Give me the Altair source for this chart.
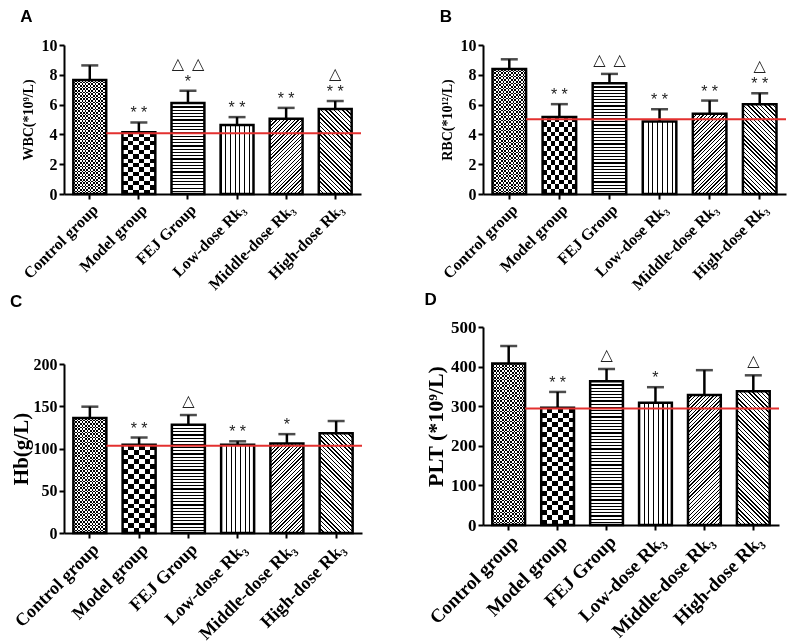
import math
import altair as alt
import pandas as pd

groups = ["Control group", "Model group", "FEJ Group", "Low-dose Rk₃", "Middle-dose Rk₃", "High-dose Rk₃"]

wbc_mean = [7.65, 4.15, 6.10, 4.63, 5.05, 5.70]
wbc_sd = [0.98, 0.65, 0.83, 0.53, 0.73, 0.54]
wbc_ref = 4.08
wbc_marks = [[], ["* *"], ["*", "△\u2002△"], ["* *"], ["* *"], ["* *", "△"]]

rbc_mean = [8.39, 5.16, 7.43, 4.87, 5.38, 6.03]
rbc_sd = [0.65, 0.87, 0.63, 0.82, 0.89, 0.73]
rbc_ref = 5.02
rbc_marks = [[], ["* *"], ["△\u2002△"], ["* *"], ["* *"], ["* *", "△"]]

hb_mean = [136, 104.5, 128, 104.5, 106, 118]
hb_sd = [13.5, 8.5, 11.6, 4.0, 11.0, 14.5]
hb_ref = 103.4
hb_marks = [[], ["* *"], ["△"], ["* *"], ["*"], []]

plt_mean = [408, 296, 363, 309, 328, 338]
plt_sd = [44, 40, 31, 39, 63, 40]
plt_ref = 294
plt_marks = [[], ["* *"], ["△"], ["*"], [], ["△"]]

SERIF = "Liberation Serif"
SYM_FONT = "Liberation Sans, DejaVu Sans"
PAD_INNER = 0.33
PAD_OUTER = 0.19


def stripes(n, x1, y1, x2, y2, c1="black", c2="white", duty=0.4):
    stops = []
    for i in range(n):
        a = round(i / n, 5)
        b = round((i + duty) / n, 5)
        c = round((i + 1) / n, 5)
        stops += [
            alt.GradientStop(offset=a, color=c1),
            alt.GradientStop(offset=b, color=c1),
            alt.GradientStop(offset=b, color=c2),
            alt.GradientStop(offset=c, color=c2),
        ]
    return alt.LinearGradient(gradient="linear", stops=stops, x1=x1, y1=y1, x2=x2, y2=y2)


def diag(bw, bh, period, direction, duty=0.4):
    r = bh / bw
    n = max(1, round(bw * (1 + r * r) / (period * math.sqrt(2))))
    if direction == "/":
        return stripes(n, 0, 0, 1, r, duty=duty)
    return stripes(n, 0, 1, 1, 1 - r, duty=duty)


def pattern_layers(i, bw, bh):
    """Return list of (fill, blend) for pattern i."""
    if i == 0:  # fine checker
        return [
            (stripes(max(1, round(bw / 3.4)), 0, 0, 1, 0, duty=0.5), None),
            (stripes(max(1, round(bh / 3.4)), 0, 0, 0, 1, c1="white", c2="black", duty=0.5), "difference"),
        ]
    if i == 1:  # coarse checker
        return [
            (stripes(max(1, round(bw / 9.5)), 0, 0, 1, 0, duty=0.5), None),
            (stripes(max(1, round(bh / 9.5)), 0, 0, 0, 1, c1="white", c2="black", duty=0.5), "difference"),
        ]
    if i == 2:  # horizontal lines
        return [(stripes(max(1, round(bh / 3.2)), 0, 0, 0, 1, duty=0.38), None)]
    if i == 3:  # vertical lines
        return [(stripes(7, 0, 0, 1, 0, duty=0.22), None)]
    if i == 4:
        return [(diag(bw, bh, 2.6, "/", duty=0.35), None)]
    return [(diag(bw, bh, 3.0, "\\", duty=0.35), None)]


def panel(letter, means, sds, ref, marks, ymax, ystep, ytitle, W, H, fs, title_offset, title_pad):
    df = pd.DataFrame({
        "group": groups,
        "mean": means,
        "upper": [m + s for m, s in zip(means, sds)],
    })
    ann_rows = []
    for g, m, s, lst in zip(groups, means, sds, marks):
        for k, lab in enumerate(lst):
            kind = "star" if "*" in lab else "tri"
            ann_rows.append({"group": g, "upper": m + s, "label": lab, "row": k, "kind": kind})
    ann = pd.DataFrame(ann_rows, columns=["group", "upper", "label", "row", "kind"])
    refdf = pd.DataFrame({"group": [groups[0]], "ref": [ref]})

    tick_fs, title_fs, xlab_fs = fs
    xenc = alt.X(
        "group:N", sort=groups, title=None,
        scale=alt.Scale(paddingInner=PAD_INNER, paddingOuter=PAD_OUTER),
        axis=alt.Axis(labelAngle=-45, labelFontSize=xlab_fs, labelPadding=2, tickSize=5),
    )

    def yenc(field):
        return alt.Y(
            f"{field}:Q", title=ytitle,
            scale=alt.Scale(domain=[0, ymax], nice=False, zero=True),
            axis=alt.Axis(values=list(range(0, ymax + 1, ystep)), labelFontSize=tick_fs,
                          titleFontSize=title_fs, titlePadding=title_pad, tickSize=5),
        )

    step = W / (6 - PAD_INNER + 2 * PAD_OUTER)
    bw = step * (1 - PAD_INNER)
    base = alt.Chart(df)
    layers = []
    for i, g in enumerate(groups):
        bh = means[i] / ymax * H
        for fill, blend in pattern_layers(i, bw, bh):
            kw = dict(fill=fill, strokeWidth=0)
            if blend:
                kw["blend"] = blend
            layers.append(
                base.transform_filter(alt.datum.group == g).mark_bar(**kw).encode(x=xenc, y=yenc("mean"))
            )
    layers.append(base.mark_bar(fillOpacity=0, stroke="black", strokeWidth=2.5).encode(x=xenc, y=yenc("mean")))
    layers.append(base.mark_rule(color="black", strokeWidth=2.5).encode(x=xenc, y=yenc("mean"), y2="upper:Q"))
    layers.append(base.mark_tick(color="black", thickness=2.5, size=17).encode(x=xenc, y=yenc("upper")))
    layers.append(
        alt.Chart(refdf).mark_rule(color="#e3302f", strokeWidth=2).encode(
            x=alt.X("group:N", sort=groups, title=None, bandPosition=1,
                    scale=alt.Scale(paddingInner=PAD_INNER, paddingOuter=PAD_OUTER)),
            x2=alt.value(W),
            y=yenc("ref"),
        )
    )
    for kind, k, dy in [("star", 0, -9), ("tri", 0, -14), ("tri", 1, -27)]:
        layers.append(
            alt.Chart(ann).transform_filter(
                (alt.datum.row == k) & (alt.datum.kind == kind)
            ).mark_text(
                font=SYM_FONT, fontSize=16, baseline="middle", dy=dy, color="#222"
            ).encode(x=xenc, y=yenc("upper"), text="label:N")
        )
    return alt.layer(*layers).properties(
        width=W, height=H,
        title=alt.TitleParams(letter, anchor="start", frame="bounds", font="Liberation Sans",
                              fontSize=17, fontWeight="bold", offset=title_offset, color="black"),
    )


pA = panel("A", wbc_mean, wbc_sd, wbc_ref, wbc_marks, 10, 2, "WBC(*10⁹/L)", 297, 149, (16, 14, 16), 11, 6)
pB = panel("B", rbc_mean, rbc_sd, rbc_ref, rbc_marks, 10, 2, "RBC(*10¹²/L)", 303, 149, (16, 14, 16), 11, 6)
pC = panel("C", hb_mean, hb_sd, hb_ref, hb_marks, 200, 50, "Hb(g/L)", 298, 169, (16, 21, 18), 45, 2)
pD = panel("D", plt_mean, plt_sd, plt_ref, plt_marks, 500, 100, "PLT (*10⁹/L)", 296, 198, (17, 22, 19), 9, 3)

chart = alt.hconcat(
    alt.vconcat(pA, pC, spacing=0),
    alt.vconcat(pB, pD, spacing=-2),
    spacing=61,
).configure(
    padding={"left": 2, "top": 0, "right": 0, "bottom": 0}, background="white"
).configure_view(stroke=None).configure_axis(
    domainColor="black", domainWidth=2, tickColor="black", tickWidth=2, grid=False,
    labelFont=SERIF, labelFontWeight="bold", labelColor="black",
    titleFont=SERIF, titleFontWeight="bold", titleColor="black",
)

chart.save("out.html", embed_options={"renderer": "svg", "actions": False})
